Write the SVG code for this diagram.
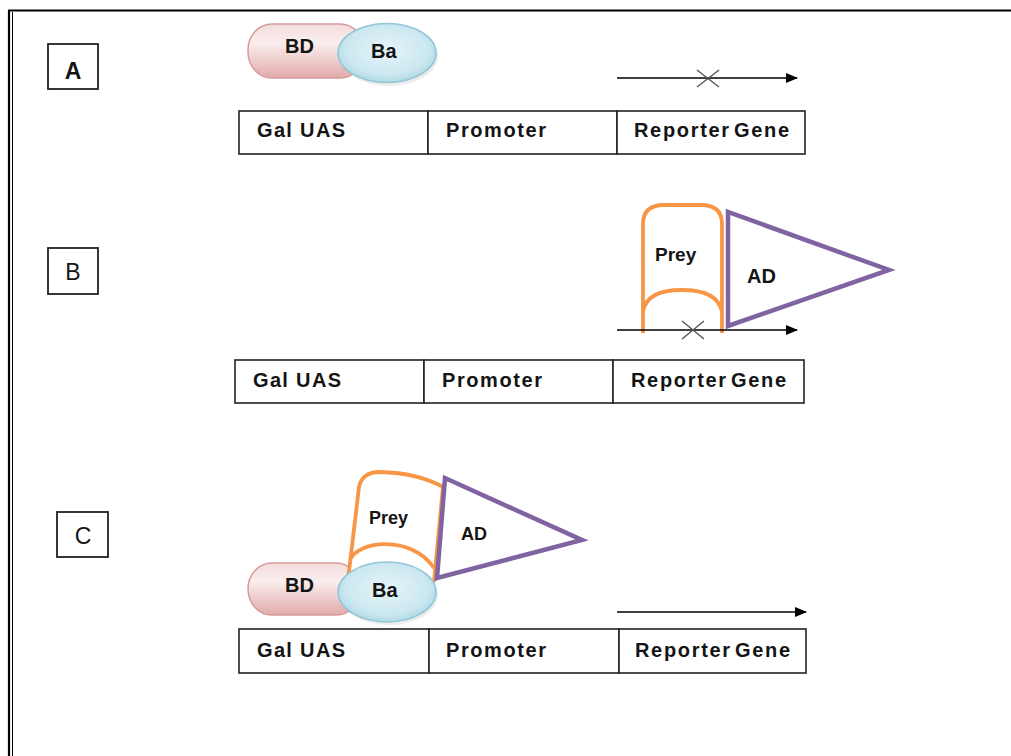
<svg xmlns="http://www.w3.org/2000/svg" width="1011" height="756" viewBox="0 0 1011 756">
  <defs>
    <linearGradient id="bdFill" x1="0" y1="0" x2="0" y2="1">
      <stop offset="0" stop-color="#f3dcdc"/>
      <stop offset="0.35" stop-color="#fbeeee"/>
      <stop offset="1" stop-color="#e2aaaa"/>
    </linearGradient>
    <radialGradient id="baFill" cx="0.5" cy="0.45" r="0.6">
      <stop offset="0" stop-color="#e6f4f8"/>
      <stop offset="0.7" stop-color="#cbe8f0"/>
      <stop offset="1" stop-color="#a6d4e2"/>
    </radialGradient>
    <marker id="arrow" viewBox="0 0 12 10" refX="11" refY="5" markerWidth="12" markerHeight="10" markerUnits="userSpaceOnUse" orient="auto">
      <path d="M0 0 L12 5 L0 10 Z" fill="#000"/>
    </marker>
    <style>
      .frame { stroke: #000; fill: none; }
      .cell { fill: #fff; stroke: #222; stroke-width: 1.6; }
      .tag { fill: #fff; stroke: #222; stroke-width: 1.8; }
      .txt { font-family: "Liberation Sans", Arial, sans-serif; font-weight: bold; fill: #141414; }
      .cellTxt { font-size: 20px; }
      .tagTxt { font-size: 23px; font-weight: normal; text-anchor: middle; }
      .tagBold { font-weight: bold; }
      .bd { fill: url(#bdFill); stroke: #d8999a; stroke-width: 1.5; }
      .ba { fill: url(#baFill); stroke: #92c6d6; stroke-width: 1.5; }
      .baShadow { fill: #a0a0a0; opacity: 0.2; }
      .prey { fill: #fff; stroke: #f79646; stroke-width: 3.8; stroke-linejoin: round; }
      .ad { fill: #fff; stroke: #8064a2; stroke-width: 4.5; stroke-linejoin: miter; }
      .path { stroke: #000; stroke-width: 1.6; fill: none; marker-end: url(#arrow); }
      .block { stroke: #555; stroke-width: 1.4; fill: none; }
    </style>
  </defs>

  <rect width="1011" height="756" fill="#fff"/>

  <!-- page frame -->
  <g id="frame">
    <line class="frame" x1="8" y1="10.5" x2="1011" y2="10.5" stroke-width="2.2"/>
    <line class="frame" x1="9" y1="10" x2="9" y2="756" stroke-width="2.2"/>
    <line class="frame" x1="12.5" y1="12" x2="12.5" y2="756" stroke-width="1"/>
  </g>

  <!-- panel tags -->
  <g id="tag-A">
    <rect class="tag" x="48" y="44" width="50" height="45"/>
    <text class="txt tagTxt tagBold" x="73" y="79">A</text>
  </g>
  <g id="tag-B">
    <rect class="tag" x="48" y="248" width="50" height="46"/>
    <text class="txt tagTxt" x="73" y="280">B</text>
  </g>
  <g id="tag-C">
    <rect class="tag" x="57" y="512" width="51" height="45"/>
    <text class="txt tagTxt" x="83" y="544">C</text>
  </g>

  <!-- construct A -->
  <g id="construct-A">
    <rect class="cell" x="239" y="111" width="189" height="43"/>
    <rect class="cell" x="428" y="111" width="189" height="43"/>
    <rect class="cell" x="617" y="111" width="188" height="43"/>
    <text class="txt cellTxt" x="257" y="137" textLength="88" lengthAdjust="spacing">Gal UAS</text>
    <text class="txt cellTxt" x="446" y="137" textLength="100" lengthAdjust="spacing">Promoter</text>
    <text class="txt cellTxt" x="634" y="137" textLength="155" lengthAdjust="spacing" word-spacing="-4">Reporter Gene</text>
  </g>

  <!-- construct B -->
  <g id="construct-B">
    <rect class="cell" x="235" y="360" width="189" height="43"/>
    <rect class="cell" x="424" y="360" width="189" height="43"/>
    <rect class="cell" x="613" y="360" width="191" height="43"/>
    <text class="txt cellTxt" x="253" y="387" textLength="88" lengthAdjust="spacing">Gal UAS</text>
    <text class="txt cellTxt" x="442" y="387" textLength="100" lengthAdjust="spacing">Promoter</text>
    <text class="txt cellTxt" x="631" y="387" textLength="155" lengthAdjust="spacing" word-spacing="-4">Reporter Gene</text>
  </g>

  <!-- construct C -->
  <g id="construct-C">
    <rect class="cell" x="239" y="629" width="190" height="44"/>
    <rect class="cell" x="429" y="629" width="190" height="44"/>
    <rect class="cell" x="619" y="629" width="187" height="44"/>
    <text class="txt cellTxt" x="257" y="657" textLength="88" lengthAdjust="spacing">Gal UAS</text>
    <text class="txt cellTxt" x="446" y="657" textLength="100" lengthAdjust="spacing">Promoter</text>
    <text class="txt cellTxt" x="635" y="657" textLength="155" lengthAdjust="spacing" word-spacing="-4">Reporter Gene</text>
  </g>

  <!-- bait fusion, panel A -->
  <g id="bait-A">
    <rect class="bd" x="248" y="24" width="116" height="54" rx="24" ry="26"/>
    <text class="txt" x="285" y="53" font-size="20">BD</text>
    <ellipse class="baShadow" cx="389" cy="56" rx="49" ry="30"/>
    <ellipse class="ba" cx="387" cy="53" rx="49" ry="29.5"/>
    <text class="txt" x="371" y="58" font-size="20">Ba</text>
  </g>

  <!-- prey / activation domain, panel B -->
  <g id="prey-B">
    <path class="prey" d="M643 333 L643 224 Q643 206 662 205 L703 205 Q722 206 722 224 L722 333"/>
    <path class="prey" fill="none" d="M643 312 Q646 290 682 290 Q718 290 722 312"/>
    <text class="txt" x="655" y="261" font-size="19">Prey</text>
  </g>
  <g id="ad-B">
    <path class="ad" d="M728 212 L728 326 L889 270 Z"/>
    <text class="txt" x="747" y="283" font-size="20">AD</text>
  </g>

  <!-- bait with bound prey, panel C -->
  <g id="bait-C">
    <rect class="bd" x="248" y="563" width="112" height="52" rx="24" ry="26"/>
    <text class="txt" x="285" y="592" font-size="20">BD</text>
  </g>
  <g id="prey-C">
    <path class="prey" d="M348 580 L359 487 Q362 472 380 472 Q418 473 443 487 L434 582"/>
    <path class="prey" fill="none" d="M350 560 C358 540 412 535 434 568"/>
    <text class="txt" x="369" y="524" font-size="18">Prey</text>
  </g>
  <g id="ad-C">
    <path class="ad" d="M445 478 L437 578 L582 540 Z"/>
    <text class="txt" x="461" y="540" font-size="18">AD</text>
  </g>
  <g id="ba-C">
    <ellipse class="baShadow" cx="389" cy="595" rx="49" ry="30"/>
    <ellipse class="ba" cx="387" cy="592" rx="49" ry="30"/>
    <text class="txt" x="372" y="597" font-size="20">Ba</text>
  </g>

  <!-- transcription arrows -->
  <g id="connectors">
    <line class="path" x1="617" y1="78" x2="797" y2="78"/>
    <path class="block" d="M697 70 L719 87 M697 87 L719 70"/>
    <line class="path" x1="617" y1="330" x2="797" y2="330"/>
    <path class="block" d="M682 321 L704 339 M682 339 L704 321"/>
    <line class="path" x1="617" y1="612" x2="806" y2="612"/>
  </g>
</svg>
